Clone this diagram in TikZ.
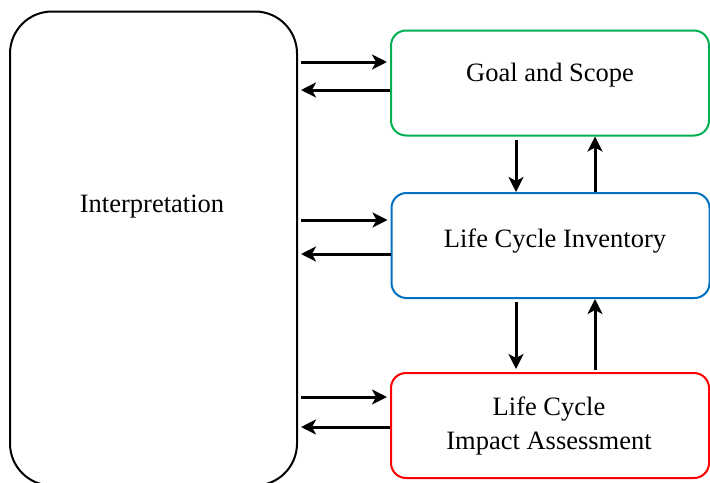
\documentclass[tikz,border=0pt]{standalone}
\usepackage{fontspec}
\setmainfont{Liberation Serif}
\usetikzlibrary{arrows.meta}
\definecolor{gsgreen}{RGB}{0,176,80}
\definecolor{lciblue}{RGB}{0,112,192}
\definecolor{lciared}{RGB}{255,0,0}
\begin{document}
\begin{tikzpicture}[x=0.5pt,y=-0.5pt,
  box/.style={draw, line width=1pt, rounded corners=7.5pt, inner sep=0pt,
    minimum width=159pt, minimum height=52.5pt},
  lbl/.style={font=\fontsize{13.25pt}{17pt}\selectfont, align=center, inner sep=0pt},
  arr/.style={line width=1.5pt, -{Stealth[length=7.5pt,width=7.5pt,inset=2pt]}}]
  \useasboundingbox (0,0) rectangle (710,482);

  % the four stages
  \node[box, rounded corners=21pt, minimum width=143.5pt, minimum height=237pt]
    (interp) at (153.5,248.5) {};
  \node[box, draw=gsgreen] (goal) at (550,83) {};
  \node[box, draw=lciblue] (lci) at (550.5,245.5) {};
  \node[box, draw=lciared] (lcia) at (550,425.5) {};

  % labels
  \node[lbl] (tinterp) at (152,207) {Interpretation};
  \node[lbl] (tgoal) at (550,75) {Goal and Scope};
  \node[lbl] (tlci) at (555,241) {Life Cycle Inventory};
  \node[lbl] (tlcia) at (549,426) {Life Cycle\\Impact Assessment};

  % interpretation <-> stages
  \draw[arr] ([xshift=1.5pt]interp.east |- 0,62) -- ([xshift=-1.5pt]goal.west |- 0,62);
  \draw[arr] (goal.west |- 0,90) -- ([xshift=1.5pt]interp.east |- 0,90);
  \draw[arr] ([xshift=1.5pt]interp.east |- 0,220) -- ([xshift=-1.5pt]lci.west |- 0,220);
  \draw[arr] (lci.west |- 0,254) -- ([xshift=1.5pt]interp.east |- 0,254);
  \draw[arr] ([xshift=1.5pt]interp.east |- 0,397) -- ([xshift=-1.5pt]lcia.west |- 0,397);
  \draw[arr] (lcia.west |- 0,427) -- ([xshift=1.5pt]interp.east |- 0,427);

  % stage to stage
  \draw[arr] ([yshift=-1.5pt]goal.south -| 516,0) -- (lci.north -| 516,0);
  \draw[arr] (lci.north -| 595,0) -- (goal.south -| 595,0);
  \draw[arr] ([yshift=-1.5pt]lci.south -| 516,0) -- ([yshift=1.5pt]lcia.north -| 516,0);
  \draw[arr] ([yshift=1pt]lcia.north -| 595,0) -- (lci.south -| 595,0);
\end{tikzpicture}
\end{document}
